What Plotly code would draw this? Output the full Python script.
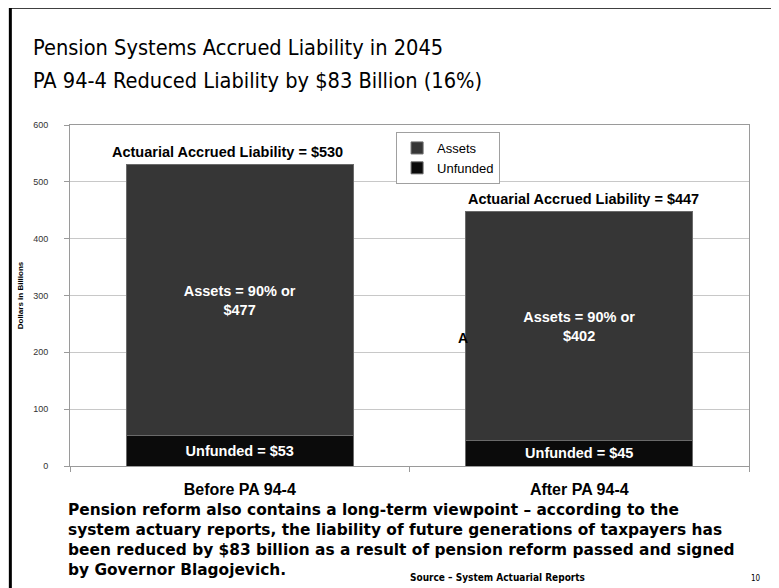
import plotly.graph_objects as go

categories = ["Before PA 94-4", "After PA 94-4"]
unfunded = [53, 45]
assets = [477, 402]
liability = [530, 447]
asset_pct = [90, 90]

tick_vals = [0, 100, 200, 300, 400, 500, 600]

ASSET_COLOR = "#363636"
UNFUNDED_COLOR = "#0b0b0b"
ARIAL = "Liberation Sans, Arial"
VERD = "DejaVu Sans Condensed"

# reference-pixel geometry of the plot area; page body adds 8px offset
OFF = 8
W, H = 779, 588
pl, pr, pt, pb = 66, 749, 125, 466.5


def px(xp):
    return (xp - pl) / (pr - pl)


def py(yp):
    return (pb - yp) / (pb - pt)


fig = go.Figure()
fig.add_trace(go.Bar(
    x=categories, y=unfunded, name="Unfunded",
    marker=dict(color=UNFUNDED_COLOR, line=dict(color="#6a6a6a", width=1)),
    text=[f"Unfunded = ${v}" for v in unfunded],
    textposition="inside", insidetextanchor="middle",
    textfont=dict(family=ARIAL, size=14.5, color="white", weight="bold"),
    textangle=0,
))
fig.add_trace(go.Bar(
    x=categories, y=assets, name="Assets",
    marker=dict(color=ASSET_COLOR, line=dict(color="#6a6a6a", width=1)),
    text=[f"Assets = {p}% or<br>${v}" for p, v in zip(asset_pct, assets)],
    textposition="inside", insidetextanchor="middle",
    textfont=dict(family=ARIAL, size=14.5, color="white", weight="bold"),
    textangle=0,
))

xshifts = [-12, 4]
for c, tot, xs in zip(categories, liability, xshifts):
    fig.add_annotation(
        x=c, y=tot, xref="x", yref="y", yanchor="bottom", yshift=3, xshift=xs,
        text=f"<b>Actuarial Accrued Liability = ${tot}</b>", showarrow=False,
        font=dict(family=ARIAL, size=14.5, color="black"),
    )
# partially hidden label peeking out behind the second bar
fig.add_annotation(x=px(461), y=py(338), xref="paper", yref="paper", text="<b>A</b>",
                   showarrow=False, xanchor="center", yanchor="middle",
                   font=dict(family=ARIAL, size=14, color="black"))

fig.update_layout(
    width=W, height=H,
    margin=dict(l=pl - OFF, r=W - (pr - OFF), t=pt - OFF, b=H - (pb - OFF)),
    paper_bgcolor="white", plot_bgcolor="white",
    barmode="stack", bargap=0.33,
    showlegend=True,
    legend=dict(
        x=px(394), y=py(132), xanchor="left", yanchor="top",
        bordercolor="#a0a0a0", borderwidth=1, bgcolor="white",
        traceorder="reversed",
        font=dict(family=ARIAL, size=13, color="black"),
        itemwidth=30, tracegroupgap=0,
    ),
    font=dict(family=ARIAL, color="black"),
)

fig.update_yaxes(
    range=[0, 600], tickvals=tick_vals,
    showgrid=True, gridcolor="#c8c8c8", gridwidth=1,
    showline=True, linecolor="#9a9a9a", linewidth=1, mirror=True,
    ticks="outside", ticklen=5, tickcolor="#9a9a9a",
    tickfont=dict(family=ARIAL, size=9, color="#333333"),
    ticklabelstandoff=14,
    title=dict(text="<b>Dollars in Billions</b>", standoff=8,
               font=dict(family=ARIAL, size=8, color="black")),
    zeroline=False,
)
fig.update_xaxes(
    showline=True, linecolor="#9a9a9a", linewidth=1, mirror=True,
    ticks="outside", ticklen=5, tickcolor="#9a9a9a", tickson="boundaries",
    tickfont=dict(family=ARIAL, size=16, color="black", weight="bold"),
    ticklabelstandoff=9,
)

# title (two lines)
fig.add_annotation(x=px(27), y=py(47), xref="paper", yref="paper", xanchor="left", yanchor="middle",
                   showarrow=False, text="Pension Systems Accrued Liability in 2045",
                   font=dict(family=VERD, size=21.6, color="black"))
fig.add_annotation(x=px(27), y=py(80), xref="paper", yref="paper", xanchor="left", yanchor="middle",
                   showarrow=False, text="PA 94-4 Reduced Liability by $83 Billion (16%)",
                   font=dict(family=VERD, size=21.6, color="black"))

# footnote paragraph
fig.add_annotation(x=px(62), y=py(500), xref="paper", yref="paper", xanchor="left", yanchor="top",
                   align="left", showarrow=False,
                   text=("<b>Pension reform also contains a long-term viewpoint \u2013 according to the<br>"
                         "system actuary reports, the liability of future generations of taxpayers has<br>"
                         "been reduced by $83 billion as a result of pension reform passed and signed<br>"
                         "by Governor Blagojevich.</b>"),
                   font=dict(family="DejaVu Sans", size=15.4, color="black"))
fig.add_annotation(x=px(496), y=py(578), xref="paper", yref="paper", xanchor="center", yanchor="middle",
                   showarrow=False, text="<b>Source \u2013 System Actuarial Reports</b>",
                   font=dict(family=VERD, size=10, color="black"))
fig.add_annotation(x=px(756), y=py(579), xref="paper", yref="paper", xanchor="center", yanchor="middle",
                   showarrow=False, text="10",
                   font=dict(family=VERD, size=8, color="black"))

# slide frame
fig.add_shape(type="line", xref="paper", yref="paper", x0=px(6), x1=px(800), y0=py(7), y1=py(7),
              line=dict(color="black", width=3))
fig.add_shape(type="line", xref="paper", yref="paper", x0=px(6), x1=px(6), y0=py(6), y1=py(620),
              line=dict(color="black", width=3))

fig.write_html("out.html")
